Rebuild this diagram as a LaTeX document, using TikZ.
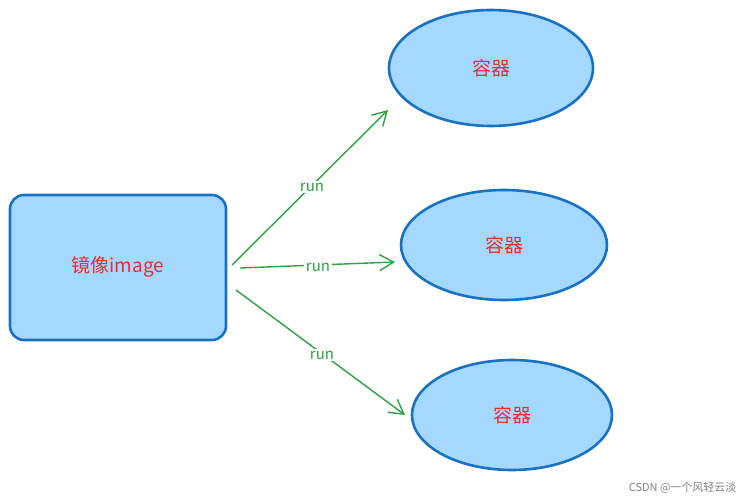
\documentclass[tikz,border=0pt]{standalone}
\usepackage{fontspec}
\newfontfamily\cjk{Noto Sans CJK SC}
\usetikzlibrary{arrows.meta}
\definecolor{bfill}{HTML}{A5D8FF}
\definecolor{bline}{HTML}{1971C2}
\definecolor{gline}{HTML}{2F9E44}
\definecolor{rtext}{HTML}{E03131}
\begin{document}
\begin{tikzpicture}[x=1pt,y=-1pt,
  box/.style={draw=bline,fill=bfill,line width=2.6pt},
  lbl/.style={text=rtext,font=\cjk\fontsize{19}{19}\selectfont},
  conn/.style={draw=gline,line width=1.4pt,-{Straight Barb[length=14pt,width=16pt]}},
  runl/.style={text=gline,fill=white,font=\cjk\fontsize{15}{15}\selectfont,inner sep=2pt}]
\useasboundingbox (0,0) rectangle (746,500);
\draw[box,rounded corners=14pt] (10,195) rectangle (226,340);
\node[lbl] (img) at (118,267) {镜像image};
\coordinate (img1) at (232,265);
\coordinate (img2) at (240,268);
\coordinate (img3) at (236,290);
\draw[box] (491,68) ellipse [x radius=102, y radius=58];
\draw[box] (504,245) ellipse [x radius=103, y radius=55];
\draw[box] (512,415) ellipse [x radius=100, y radius=55];
\node[lbl] (c1) at (491,68) {容器};
\node[lbl] (c2) at (504,245) {容器};
\node[lbl] (c3) at (512,415) {容器};
\coordinate (t1) at (388,110);
\coordinate (t2) at (395,262);
\coordinate (t3) at (405,415);
\draw[conn] (img1) -- (t1);
\draw[conn] (img2) -- (t2);
\draw[conn] (img3) -- (t3);
\node[runl] (r1) at (312,187) {run};
\node[runl] (r2) at (318,267) {run};
\node[runl] (r3) at (322,355) {run};
\node[text=gray,font=\cjk\fontsize{11}{11}\selectfont,anchor=east] (wm) at (740,488) {CSDN @一个风轻云淡};
\end{tikzpicture}
\end{document}
